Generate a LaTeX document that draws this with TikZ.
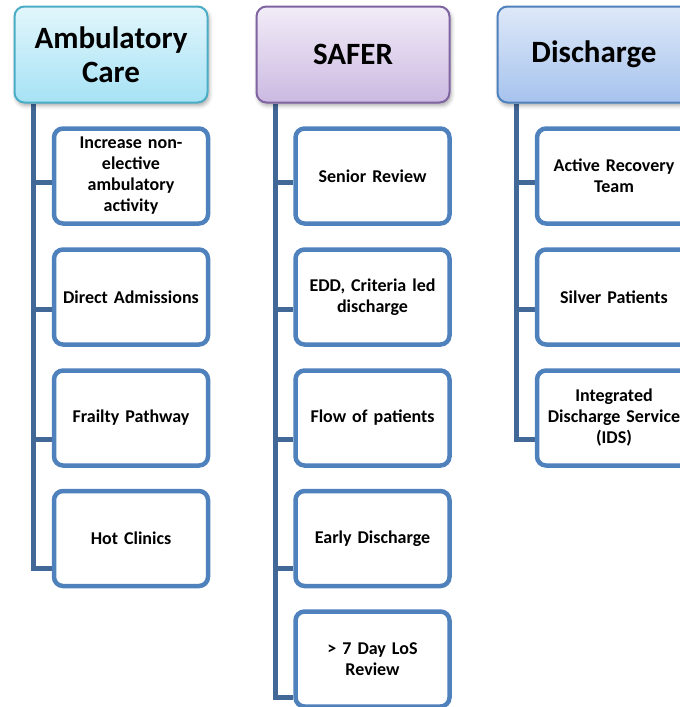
\documentclass[tikz,border=0pt]{standalone}
\usepackage{fontspec}
\setmainfont{Carlito}[WordSpace=0.75]
\usetikzlibrary{shadows.blur,backgrounds}
\definecolor{boxline}{RGB}{79,129,189}
\definecolor{connline}{RGB}{66,104,152}
\definecolor{aqTop}{RGB}{226,246,252}
\definecolor{aqBot}{RGB}{166,226,244}
\definecolor{aqLine}{RGB}{75,172,198}
\definecolor{puTop}{RGB}{242,236,248}
\definecolor{puBot}{RGB}{203,185,225}
\definecolor{puLine}{RGB}{128,100,162}
\definecolor{blTop}{RGB}{222,232,248}
\definecolor{blBot}{RGB}{166,195,238}
\definecolor{blLine}{RGB}{79,129,189}
\tikzset{
  head/.style={rectangle, rounded corners=10pt, line width=2pt,
    minimum width=193pt, minimum height=96pt, inner sep=2pt,
    align=center, font=\fontsize{31}{34}\selectfont\bfseries,
    blur shadow={shadow xshift=1.5pt, shadow yshift=-3pt, shadow blur radius=4pt, shadow opacity=35}},
  child/.style={rectangle, rounded corners=9pt, draw=boxline, line width=4.5pt, fill=white,
    minimum width=154pt, minimum height=95pt, text width=150pt, inner sep=1pt,
    align=center, font=\fontsize{18}{21}\selectfont\bfseries},
  conn/.style={draw=connline, line width=5pt, line join=miter}
}
\begin{document}
\begin{tikzpicture}[x=1pt,y=-1pt]
\useasboundingbox (0,0) rectangle (680,707);
% headers
\node[head, draw=aqLine, top color=aqTop, bottom color=aqBot] (hA) at (111,54.5) {Ambulatory\\Care};
\node[head, draw=puLine, top color=puTop, bottom color=puBot] (hB) at (353,54.5) {SAFER};
\node[head, draw=blLine, top color=blTop, bottom color=blBot] (hC) at (594,54.5) {Discharge};
% column A
\node[child] (a1) at (131,176) {Increase non-\\elective\\ambulatory\\activity};
\node[child] (a2) at (131,297) {Direct Admissions};
\node[child] (a3) at (131,418) {Frailty Pathway};
\node[child] (a4) at (131,538.5) {Hot Clinics};
% column B
\node[child] (b1) at (372.5,176) {Senior Review};
\node[child] (b2) at (372.5,297) {EDD, Criteria led\\discharge};
\node[child] (b3) at (372.5,418) {Flow of patients};
\node[child] (b4) at (372.5,538.5) {Early Discharge};
\node[child] (b5) at (372.5,659) {> 7 Day LoS\\Review};
% column C
\node[child] (c1) at (614,176) {Active Recovery\\Team};
\node[child] (c2) at (614,297) {Silver Patients};
\node[child] (c3) at (614,418) {Integrated\\Discharge Service\\(IDS)};
% connectors
\begin{scope}[on background layer]
\coordinate (tA) at ([xshift=19.5pt]hA.south west);
\coordinate (tB) at ([xshift=19.5pt]hB.south west);
\coordinate (tC) at ([xshift=19.5pt]hC.south west);
\foreach \n/\t/\s in {a1/tA/-6, a2/tA/-12, a3/tA/-21, a4/tA/-29.5,
                      b1/tB/-6, b2/tB/-12, b3/tB/-21, b4/tB/-29.5, b5/tB/-38,
                      c1/tC/-6, c2/tC/-12, c3/tC/-21}{
  \coordinate (k\n) at ([yshift=\s pt]\n.west);
  \draw[conn] (\t |- k\n) -- (k\n);
}
\draw[conn] (tA) |- (ka4);
\draw[conn] (tB) |- (kb5);
\draw[conn] (tC) |- (kc3);
\end{scope}
\end{tikzpicture}
\end{document}
